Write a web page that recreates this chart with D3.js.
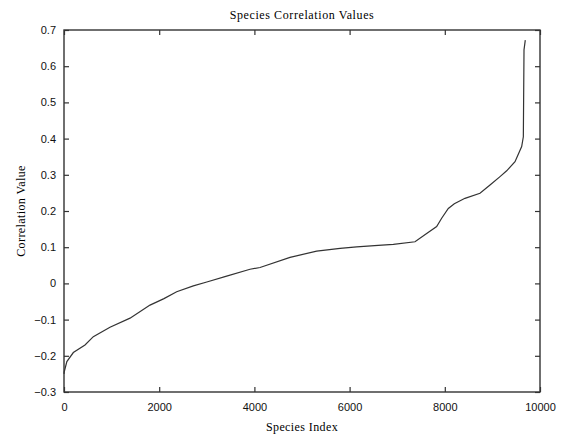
<!DOCTYPE html>
<html>
<head>
<meta charset="utf-8">
<script src="https://cdn.jsdelivr.net/npm/d3@7/dist/d3.min.js"></script>
<style>
  body { margin: 0; background: #fff; }
  svg { display: block; }
</style>
</head>
<body>
<svg id="chart"></svg>
<script>
// values
const speciesIndex = [0, 5, 60, 196, 441, 616, 966, 1387, 1807, 2100, 2367, 2717, 3000,
  3417, 3908, 4118, 4748, 5308, 5800, 6149, 6600, 6919, 7374, 7619, 7829, 7934, 8074,
  8200, 8424, 8739, 8950, 9160, 9300, 9475, 9615, 9650, 9664, 9691];
const correlation = [-0.25, -0.244, -0.216, -0.191, -0.170, -0.147, -0.121, -0.096, -0.060,
  -0.042, -0.023, -0.007, 0.004, 0.020, 0.039, 0.044, 0.072, 0.089, 0.097, 0.101, 0.105,
  0.108, 0.115, 0.138, 0.157, 0.180, 0.207, 0.220, 0.235, 0.249, 0.272, 0.295, 0.311,
  0.336, 0.378, 0.405, 0.645, 0.672];
const xTicks = [0, 2000, 4000, 6000, 8000, 10000];
const yTicks = [-0.3, -0.2, -0.1, 0, 0.1, 0.2, 0.3, 0.4, 0.5, 0.6, 0.7];

const svgWidth = 562;
const svgHeight = 434;
const margin = {
  top: 30, right: 22, bottom: 42, left: 64,
};
const width = svgWidth - margin.left - margin.right;
const height = svgHeight - margin.top - margin.bottom;

const svg = d3.select('#chart')
  .attr('width', svgWidth)
  .attr('height', svgHeight);

const g = svg.append('g').attr('transform', `translate(${margin.left},${margin.top})`);

const x = d3.scaleLinear().domain([0, 10000]).range([0, width]);
const y = d3.scaleLinear().domain([-0.3, 0.7]).range([height, 0]);

const data = speciesIndex.map((d, i) => ({ idx: d, val: correlation[i] }));

const tickFont = '"Liberation Sans", Arial, sans-serif';
const labelFont = '"Liberation Serif", "Times New Roman", serif';

function styleAxis(sel, showText) {
  sel.select('.domain').remove();
  sel.selectAll('.tick line').attr('stroke', '#333').attr('stroke-width', 1.2);
  sel.selectAll('.tick text')
    .attr('font-family', tickFont)
    .attr('font-size', 11)
    .attr('fill', '#111')
    .style('display', showText ? null : 'none');
}

// bottom / left axes with labels, ticks pointing inward
g.append('g')
  .attr('transform', `translate(0,${height})`)
  .call(d3.axisBottom(x).tickValues(xTicks).tickSize(-5).tickPadding(11).tickFormat(d3.format('d')))
  .call(s => styleAxis(s, true));

g.append('g')
  .call(d3.axisLeft(y).tickValues(yTicks).tickSize(-5).tickPadding(8).tickFormat(d => (d === 0 ? '0' : d3.format('.1f')(d))))
  .call(s => styleAxis(s, true));

// mirrored ticks on top / right
g.append('g')
  .call(d3.axisTop(x).tickValues(xTicks).tickSize(-5))
  .call(s => styleAxis(s, false));

g.append('g')
  .attr('transform', `translate(${width},0)`)
  .call(d3.axisRight(y).tickValues(yTicks).tickSize(-5))
  .call(s => styleAxis(s, false));

// box
g.append('rect')
  .attr('width', width)
  .attr('height', height)
  .attr('fill', 'none')
  .attr('stroke', '#333')
  .attr('stroke-width', 1.4);

// curve
const line = d3.line()
  .x(d => x(d.idx))
  .y(d => y(d.val));

g.append('path')
  .datum(data)
  .attr('fill', 'none')
  .attr('stroke', '#333')
  .attr('stroke-width', 1.2)
  .attr('d', line);

// title and axis labels
svg.append('text')
  .attr('x', margin.left + width / 2)
  .attr('y', 19)
  .attr('text-anchor', 'middle')
  .attr('font-family', labelFont)
  .attr('font-size', 12)
  .attr('letter-spacing', 0.6)
  .text('Species Correlation Values');

svg.append('text')
  .attr('x', margin.left + width / 2)
  .attr('y', 431)
  .attr('text-anchor', 'middle')
  .attr('font-family', labelFont)
  .attr('font-size', 12)
  .attr('letter-spacing', 0.4)
  .text('Species Index');

svg.append('text')
  .attr('transform', `translate(25,${margin.top + height / 2}) rotate(-90)`)
  .attr('text-anchor', 'middle')
  .attr('font-family', labelFont)
  .attr('font-size', 12)
  .attr('letter-spacing', 0.4)
  .text('Correlation Value');
</script>
</body>
</html>
